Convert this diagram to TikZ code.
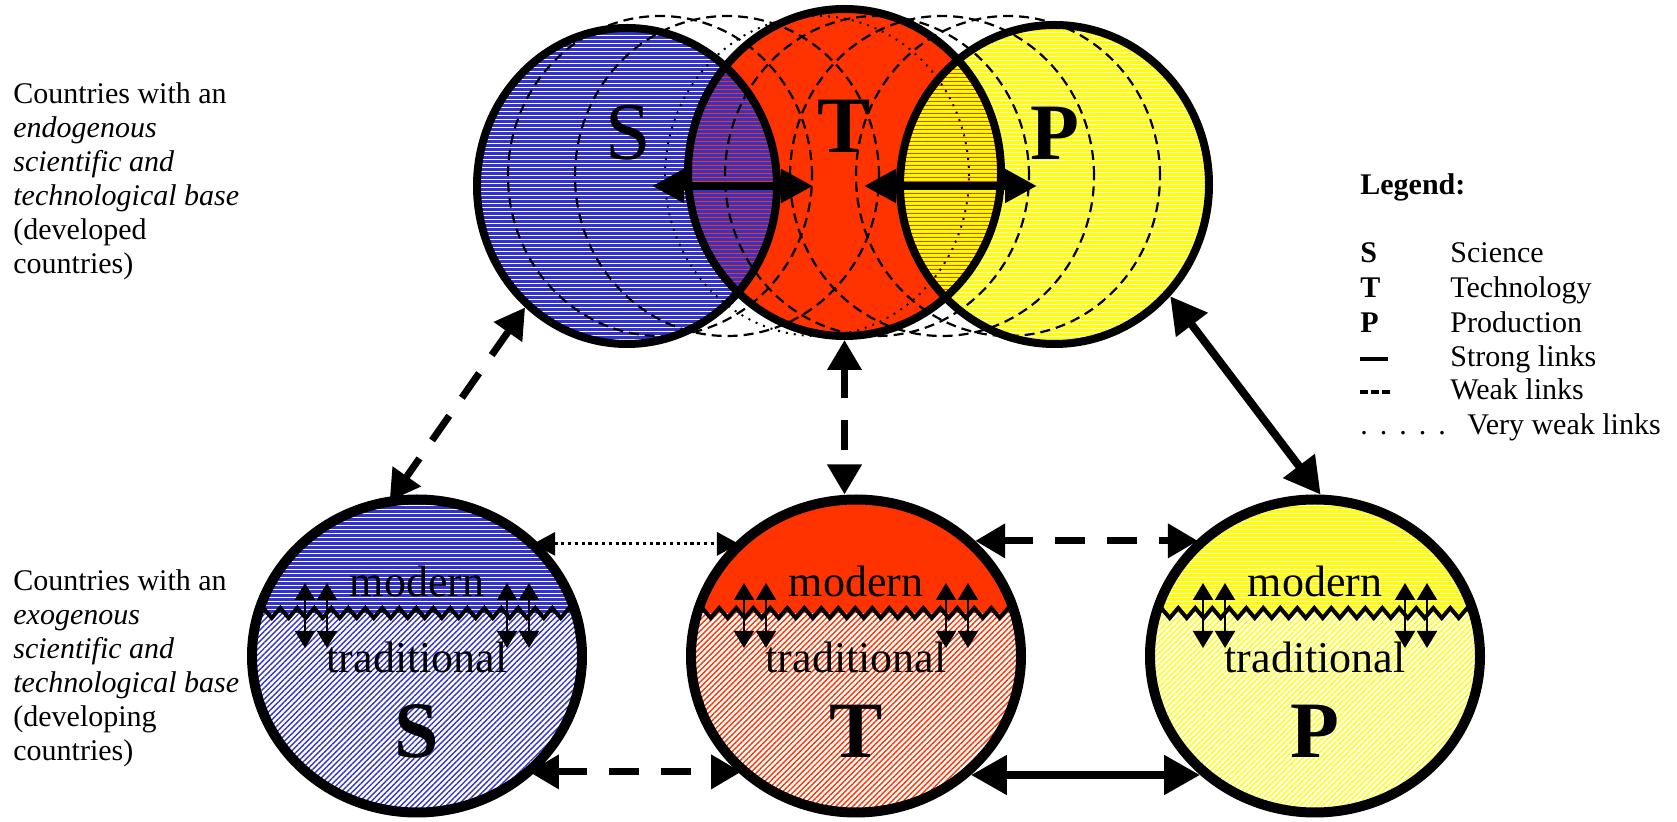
\documentclass[tikz,border=0pt]{standalone}
\usepackage{fontspec}
\setmainfont{Liberation Serif}
\usetikzlibrary{calc,shapes.geometric,arrows.meta,decorations.pathmorphing,patterns.meta}

\definecolor{blueS}{RGB}{51,51,204}
\definecolor{redT}{RGB}{255,51,0}
\definecolor{yellowP}{RGB}{255,255,0}

\begin{document}
\begin{tikzpicture}[x=0.5pt, y=-0.5pt,
  every node/.style={font=\fontsize{15pt}{17pt}\selectfont, inner sep=0pt},
  keytext/.style={anchor=base west, font=\fontsize{15pt}{17pt}\selectfont\bfseries},
  bigletter/.style={anchor=base, font=\fontsize{40pt}{40pt}\selectfont\bfseries},
  zone/.style={anchor=base, font=\fontsize{22pt}{22pt}\selectfont},
  strong/.style={line width=4pt, >={Triangle[length=18pt,width=19pt]}, <->},
  pair/.style={line width=4pt, >={Triangle[length=16pt,width=16pt]}, <->},
  weak/.style={line width=3.5pt, dash pattern=on 15pt off 11pt, >={Triangle[length=15pt,width=16.5pt]}, <->},
  vweak/.style={line width=1.6pt, dash pattern=on 1.6pt off 1.8pt, >={Triangle[length=11pt,width=11.5pt]}, <->},
  ghost/.style={line width=1.1pt, dash pattern=on 5pt off 3pt},
  faint/.style={line width=1pt, dash pattern=on 1pt off 3pt},
  ring/.style={line width=4pt},
  stripes/.style={path picture={
    \foreach \k in {0,4,...,340}
      \draw[#1, line width=0.5pt] ($(path picture bounding box.north west)+(-5,\k)$) -- ++(420,0);}},
  ovalS/.style={x radius=75pt, y radius=79pt, minimum width=150pt, minimum height=158pt},
  ovalT/.style={x radius=78.25pt, y radius=81.75pt, minimum width=156.5pt, minimum height=163.5pt},
  ovalP/.style={x radius=77.25pt, y radius=79.75pt, minimum width=154.5pt, minimum height=159.5pt},
  topcircle/.style={ellipse, draw=none, outer sep=2pt},
  lowcircle/.style 2 args={ellipse, draw, line width=5pt, minimum width=165pt, minimum height=156.5pt,
    pattern={Lines[angle=45, distance=2pt, line width=0.7pt]}, pattern color=#1,
    path picture={
      \coordinate (o) at (path picture bounding box.center);
      \fill[#1] ($(o)+(-200,-200)$) rectangle ($(o)+(200,-43)$);
      \foreach \k in {-158,-154,...,-44}
        \draw[#2, line width=0.5pt] ($(o)+(-200,\k)$) -- ++(400,0);
      \draw[line width=2pt, decorate, decoration={zigzag, segment length=8.5pt, amplitude=2.5pt}]
        ($(o)+(-175,-43)$) -- ($(o)+(175,-43)$);
      \foreach \dx in {-112,-90,90,112}
        \draw[black, line width=1pt, >={Triangle[length=8.5pt,width=10pt,fill=black]}, <->]
          ($(o)+(\dx,-73)$) -- ++(0,65);
    }}]
  \useasboundingbox (0,0) rectangle (1677,822);

  % Upper row: endogenous base
  \node[topcircle, ovalS, fill=blueS, stripes=white] (tS) at (627,186) {};
  \node[topcircle, ovalP, fill=yellowP, stripes=white] (tP) at (1054.5,184.5) {};
  \node[topcircle, ovalT, fill=redT] (tT) at (844.5,172.5) {};

  % Overlaps of T with S and P
  \begin{scope}
    \clip (tT.center) ellipse [ovalT];
    \fill[blueS] (tS.center) ellipse [ovalS];
    \fill[yellowP] (tP.center) ellipse [ovalP];
    \foreach \k in {2,6,...,340}
      \draw[redT, line width=0.5pt] (600,\k) -- (1100,\k);
  \end{scope}

  % Moving outlines
  \foreach \gx in {660,727,877,942,1008}
    \draw[ghost] (\gx,176) ellipse [x radius=76pt, y radius=80pt];
  \draw[faint] (817,176) ellipse [x radius=76pt, y radius=80pt];

  \draw[ring] (tS.center) ellipse [ovalS];
  \draw[ring] (tP.center) ellipse [ovalP];
  \draw[ring] (tT.center) ellipse [ovalT];

  \node[bigletter, font=\fontsize{41pt}{41pt}\selectfont] (tSl) at (628,160) {S};
  \node[bigletter] (tTl) at (844,153) {T};
  \node[bigletter] (tPl) at (1055,160) {P};

  \draw[pair, shorten <=-16pt, shorten >=-16pt] (tT.west |- tS.east) -- (tS.east);
  \draw[pair, shorten <=-16pt, shorten >=-16pt] (tP.west |- tS.east) -- (tT.east |- tS.east);

  % Lower row: exogenous base
  \foreach \n/\x/\c/\w in {S/417/blueS/white, T/856/redT/redT, P/1315/yellowP/white}{
    \node[lowcircle={\c}{\w}] (b\n) at (\x,656) {};
    \node[zone] (mod\n) at (\x,597) {modern};
    \node[zone] (trad\n) at (\x,673) {traditional};
    \node[bigletter] (let\n) at (\x,758) {\n};
  }

  % Links
  \draw[weak] (tS.230) -- (bS.100);
  \draw[weak] (tT.south) -- (tT.south |- bT.north);
  \draw[strong] (tP.316) -- (bP.88);
  \draw[vweak] (bS.44.4) -- (bT.135.6 |- bS.44.4);
  \draw[weak] (bT.44.4) -- (bP.135 |- bT.44.4);
  \draw[weak] (bS.314) -- (bT.226 |- bS.314);
  \draw[strong] (bT.314) -- (bP.226.6 |- bT.314);

  % Row captions
  \foreach \y/\t [count=\i] in {104/Countries with an, 138/\textit{endogenous}, 172/\textit{scientific and},
      206/\textit{technological base}, 240/(developed, 274/countries)}
    \node[anchor=base west] (dev\i) at (13,\y) {\t};
  \foreach \y/\t [count=\i] in {591/Countries with an, 625/\textit{exogenous}, 659/\textit{scientific and},
      693/\textit{technological base}, 727/(developing, 761/countries)}
    \node[anchor=base west] (exo\i) at (13,\y) {\t};

  % Legend
  \node[keytext] (leg) at (1360,195) {Legend:};
  \foreach \y/\k/\t [count=\i] in {263/S/Science, 298/T/Technology, 333/P/Production,
      367/\rule[3.2pt]{14pt}{1.8pt}/Strong links,
      400/\rule[3pt]{4pt}{2pt}\hskip1.5pt\rule[3pt]{4pt}{2pt}\hskip1.5pt\rule[3pt]{4pt}{2pt}/Weak links}{
    \node[keytext] (key\i) at (1360,\y) {\k};
    \node[anchor=base west] (txt\i) at (1450,\y) {\t};
  }
  \node[anchor=base west] (key6) at (1360,435) {.\hskip6pt.\hskip6pt.\hskip6pt.\hskip6pt.};
  \node[anchor=base west] (txt6) at (1467,435) {Very weak links};
\end{tikzpicture}
\end{document}
